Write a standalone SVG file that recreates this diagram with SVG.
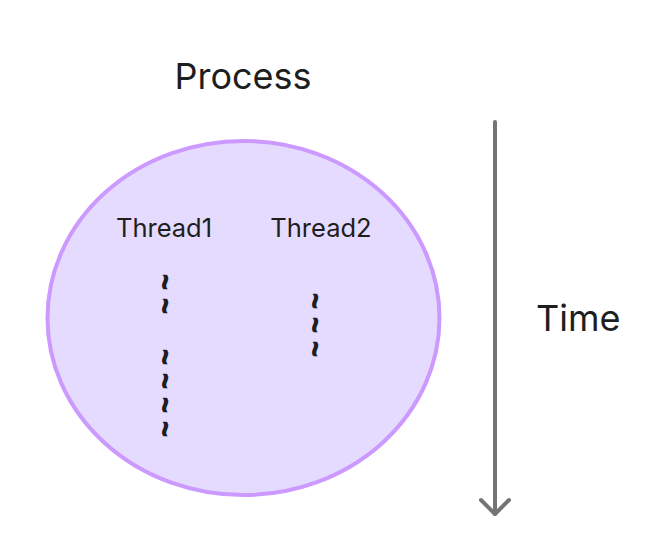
<svg xmlns="http://www.w3.org/2000/svg" width="670" height="552" viewBox="0 0 670 552">
<style>
.t{font-family:Inter,"Noto Sans","DejaVu Sans",sans-serif;fill:#1e1e1e}
.big{font-size:36px}
.mid{font-size:25.5px}
.sq{font-family:"Liberation Sans",Arial,sans-serif;font-size:29px;font-weight:bold;fill:#1e1e1e;text-anchor:middle;dominant-baseline:central}
</style>
<rect width="670" height="552" fill="#ffffff"/>
<g id="process">
<ellipse cx="243.5" cy="318" rx="196" ry="177" fill="#e5dbff" stroke="#cc99ff" stroke-width="4"/>
<text class="t big" x="243" y="89" text-anchor="middle">Process</text>
</g>
<g id="thread1">
<text class="t mid" x="164" y="237" text-anchor="middle">Thread1</text>
<text class="sq" transform="translate(166,282) rotate(90) scale(1,1.4)">~</text>
<text class="sq" transform="translate(166,306) rotate(90) scale(1,1.4)">~</text>
<text class="sq" transform="translate(166,357) rotate(90) scale(1,1.4)">~</text>
<text class="sq" transform="translate(166,381) rotate(90) scale(1,1.4)">~</text>
<text class="sq" transform="translate(166,405) rotate(90) scale(1,1.4)">~</text>
<text class="sq" transform="translate(166,429) rotate(90) scale(1,1.4)">~</text>
</g>
<g id="thread2">
<text class="t mid" x="321" y="237" text-anchor="middle">Thread2</text>
<text class="sq" transform="translate(316,301) rotate(90) scale(1,1.4)">~</text>
<text class="sq" transform="translate(316,325) rotate(90) scale(1,1.4)">~</text>
<text class="sq" transform="translate(316,349) rotate(90) scale(1,1.4)">~</text>
</g>
<g id="connectors">
<line x1="495" y1="122" x2="495" y2="514" stroke="#757575" stroke-width="4" stroke-linecap="round"/>
<polyline points="481,500 495,514 509,500" fill="none" stroke="#757575" stroke-width="4" stroke-linecap="round" stroke-linejoin="round"/>
</g>
<g id="time">
<text class="t big" x="536" y="331">Time</text>
</g>
</svg>
